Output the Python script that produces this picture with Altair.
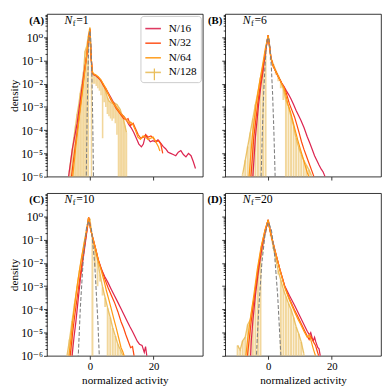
import altair as alt
import pandas as pd

SERIES = ["N/16", "N/32", "N/64", "N/128"]
COLORS = ["#dc2550", "#ff4a10", "#ff9a14", "#e9bd5a"]
PANELS = ["A", "B", "C", "D"]
NF = ["1", "6", "10", "20"]
X_TICKS = [0, 20]
X_DOMAIN = [-13.5, 35.5]
Y_DOMAIN = [1e-6, 10]
Y_TICKS = [m * 10.0 ** k for k in range(-6, 1) for m in range(1, 10)]

# ---- values are log10(density) ----
# Panel A  (N_f = 1)
A16_x = [-6.7, -5.5, -4.0, -2.8, -1.9, -1.0, -0.4, 0.0, 0.4, 0.8, 1.2, 1.8, 2.6, 3.4, 4.2, 5.0, 5.8, 6.6, 7.4, 8.2,
         9.0, 9.8, 10.6, 11.4, 12.2, 13.0, 13.8, 14.6, 15.4, 16.2, 16.8, 17.5, 18.2, 19.0, 19.8, 20.6, 21.4, 22.2, 23.0, 23.8,
         24.6, 25.4, 26.2, 27.0, 27.8, 28.6, 29.4, 30.2, 31.0, 31.8, 32.5, 33.2]
A16_y = [-6.0, -4.8, -3.7, -2.5, -1.6, -0.8, -0.1, 0.3, -0.9, -1.55, -1.62, -1.65, -1.75, -1.85, -2.05, -2.2, -2.4, -2.6, -2.8, -3.0,
         -3.15, -3.3, -3.4, -3.55, -3.75, -3.9, -4.1, -4.35, -4.6, -4.72, -4.6, -4.2, -4.35, -4.5, -4.45, -4.5, -4.42, -4.55, -4.7, -4.8,
         -4.95, -5.0, -5.05, -5.1, -4.95, -4.88, -5.05, -5.15, -5.0, -5.1, -5.35, -5.65]
A32_x = [-5.8, -4.8, -3.5, -2.5, -1.7, -1.0, -0.4, 0.0, 0.4, 0.8, 1.2, 1.8, 2.6, 3.4, 4.2, 5.0, 5.8, 6.6, 7.4, 8.2,
         9.0, 9.8, 10.6, 11.4, 12.0, 12.8, 13.6, 14.4, 15.2, 16.0, 16.8, 17.6, 18.4, 19.2, 20.0, 20.8, 21.6, 22.3, 22.9]
A32_y = [-6.0, -4.9, -3.5, -2.4, -1.5, -0.8, -0.05, 0.36, -0.9, -1.55, -1.6, -1.63, -1.72, -1.85, -2.05, -2.25, -2.45, -2.7, -2.85, -3.05,
         -3.2, -3.35, -3.5, -3.55, -3.5, -3.8, -3.7, -3.95, -4.2, -4.35, -4.3, -4.2, -4.3, -4.25, -4.35, -4.5, -4.45, -4.6, -5.0]
A64_x = [-5.4, -4.5, -3.3, -2.3, -1.6, -1.0, -0.4, 0.0, 0.4, 0.8, 1.2, 1.8, 2.6, 3.4, 4.2, 5.0, 5.8, 6.6, 7.4, 8.2,
         9.0, 9.8, 10.6, 11.4, 12.2, 12.8, 13.5, 14.3, 15.1, 15.9, 16.7, 17.5, 18.3, 19.1, 19.9, 20.7, 21.5, 22.0]
A64_y = [-6.0, -4.8, -3.4, -2.3, -1.45, -0.75, -0.05, 0.37, -0.9, -1.5, -1.58, -1.62, -1.7, -1.82, -2.0, -2.2, -2.45, -2.65, -2.85, -3.0,
         -3.15, -3.3, -3.4, -3.55, -3.7, -3.65, -3.75, -4.0, -4.3, -4.4, -4.25, -4.3, -4.4, -4.35, -4.3, -4.5, -4.7, -4.9]
A128_x = [-6.5, -6.0, -5.5, -5.0, -4.5, -4.0, -3.5, -3.0, -2.5, -2.0, -1.5, -1.0, -0.5, 0.0, 0.5, 1.0, 1.5, 2.0, 2.5,
          3.0, 3.5, 4.0, 4.5, 5.0, 5.5, 6.0, 6.5, 7.0, 7.5, 8.0, 8.5, 9.0, 9.5, 10.0, 10.5, 11.0, 11.5]
A128_y = [-5.8, -5.3, -4.8, -4.3, -3.8, -3.3, -2.9, -2.4, -2.0, -1.5, -0.6, -0.4, 0.05, 0.42, -1.25, -1.6, -1.62, -1.68, -1.72,
          -1.8, -1.9, -2.0, -2.15, -2.35, -2.6, -2.75, -2.8, -2.85, -2.8, -2.85, -2.9, -3.0, -3.1, -3.3, -3.5, -3.8, -4.1]
A128_lo = [-7, -7, -7, -7, -7, -7, -7, -7, -7, -7, -7, -7, -7, -0.25, -7, -2.0, -2.0, -2.1, -2.2,
           -2.3, -2.5, -4.35, -2.8, -3.0, -3.3, -3.4, -3.5, -3.6, -3.5, -3.7, -4.2, -7, -7, -7, -7, -7, -7]
GA_x = [-1.15, -1.1, -0.9, -0.7, -0.5, -0.25, 0.0, 0.25, 0.5, 0.7, 0.9, 1.1, 1.15]
GA_y = [-6.2, -5.67, -3.7, -2.13, -0.95, -0.03, 0.28, -0.03, -0.95, -2.13, -3.7, -5.67, -6.2]

# Panel B  (N_f = 6)
B16_x = [-4.8, -4.0, -3.0, -2.2, -1.6, -0.8, 0.0, 0.5, 0.9, 1.5, 2.1, 3.0, 4.2, 5.0, 5.7, 6.5, 7.2, 8.0, 8.8, 9.5,
         10.3, 11.3, 12.3, 13.1, 13.9, 14.6, 15.4, 16.0, 16.7, 17.3, 17.9]
B16_y = [-6.0, -4.3, -2.9, -2.0, -1.46, -0.6, 0.08, -0.45, -0.9, -1.2, -1.39, -1.65, -1.96, -2.12, -2.3, -2.48, -2.66, -2.9, -3.15, -3.35,
         -3.57, -3.9, -4.28, -4.55, -4.84, -5.1, -5.33, -5.5, -5.68, -5.8, -6.0]
B32_x = [-5.4, -4.5, -3.3, -2.4, -1.6, -0.8, 0.0, 0.5, 0.9, 1.5, 2.1, 3.0, 4.2, 5.0, 5.7, 6.7, 7.5, 8.3, 9.0, 9.8,
         10.5, 11.3, 12.0, 12.8, 13.6, 14.4]
B32_y = [-6.0, -4.3, -2.9, -2.0, -1.3, -0.55, 0.08, -0.45, -0.9, -1.2, -1.39, -1.65, -1.96, -2.15, -2.4, -2.87, -3.15, -3.43, -3.75, -4.14,
         -4.5, -4.84, -5.1, -5.4, -5.7, -6.0]
B64_x = [-6.0, -5.0, -3.8, -2.7, -1.8, -0.9, 0.0, 0.5, 0.9, 1.5, 2.1, 3.0, 4.2, 5.0, 5.6, 6.2, 7.0, 7.7, 8.5, 9.3,
         10.0, 10.8, 11.5, 12.3, 12.8]
B64_y = [-6.0, -4.3, -2.9, -1.95, -1.25, -0.5, 0.08, -0.45, -0.9, -1.2, -1.39, -1.65, -1.98, -2.2, -2.5, -2.87, -3.2, -3.57, -4.0, -4.42,
         -4.75, -5.12, -5.45, -5.82, -6.0]
B128_x = [-8.0, -7.2, -6.4, -5.6, -4.8, -4.0, -3.2, -2.4, -1.6, -0.8, 0.0, 0.8, 1.6, 2.4, 3.2, 4.0, 4.8, 5.6, 6.4,
          7.2, 8.0, 8.8, 9.6, 10.4, 11.2, 12.0, 12.8, 13.6]
B128_y = [-5.9, -5.3, -4.7, -4.1, -3.5, -2.9, -2.35, -1.75, -1.2, -0.6, 0.08, -0.85, -1.15, -1.42, -1.65, -1.9, -2.25, -2.7, -3.0,
          -3.4, -3.85, -4.35, -4.75, -5.05, -5.3, -5.5, -5.7, -5.95]
B128_lo = [-7, -7, -7, -7, -7, -7, -7, -7, -7, -7, -0.05, -1.0, -1.3, -1.6, -1.9, -2.2, -2.7, -7, -7,
           -7, -7, -7, -7, -7, -7, -7, -7, -7]
GB_x = [-2.25, -2.2, -1.8, -1.4, -1.0, -0.6, -0.3, 0.0, 0.3, 0.6, 1.0, 1.4, 1.8, 2.2, 2.25]
GB_y = [-6.25, -5.98, -4.01, -2.43, -1.25, -0.46, -0.13, -0.02, -0.13, -0.46, -1.25, -2.43, -4.01, -5.98, -6.25]

# Panel C  (N_f = 10)
C16_x = [-5.6, -5.0, -4.4, -3.7, -3.0, -2.3, -1.6, -1.0, -0.4, 0.3, 1.1, 1.9, 2.65, 3.7, 4.7, 5.7, 6.7, 7.7, 8.8, 9.8,
         10.8, 11.8, 12.6, 13.4, 14.1, 14.9, 15.6, 16.4, 17.1, 17.5, 17.9]
C16_y = [-6.0, -5.2, -4.53, -3.6, -2.7, -2.0, -1.3, -0.7, -0.04, -0.6, -1.02, -1.45, -1.87, -2.3, -2.6, -2.85, -3.13, -3.4, -3.7, -3.97,
         -4.25, -4.53, -4.75, -4.95, -5.15, -5.37, -5.5, -5.55, -5.85, -5.6, -6.0]
C32_x = [-6.2, -5.5, -4.8, -4.0, -3.2, -2.4, -1.7, -1.0, -0.4, 0.3, 1.1, 1.9, 2.65, 3.7, 4.7, 5.7, 6.7, 7.7, 8.8, 9.8,
         10.6, 11.3, 12.0, 12.8, 13.4, 13.9]
C32_y = [-6.0, -5.1, -4.3, -3.5, -2.7, -1.95, -1.3, -0.65, -0.04, -0.6, -1.02, -1.45, -1.87, -2.3, -2.7, -3.06, -3.38, -3.69, -4.1, -4.53,
         -4.8, -5.09, -5.35, -5.65, -5.6, -6.0]
C64_x = [-6.6, -6.0, -5.4, -4.6, -3.7, -2.8, -1.9, -1.1, -0.4, 0.3, 1.1, 1.9, 2.65, 3.7, 4.5, 5.2, 6.0, 6.7, 7.5, 8.3,
         9.0, 9.8, 10.3, 10.8]
C64_y = [-6.0, -5.3, -4.53, -3.6, -2.7, -1.9, -1.2, -0.6, -0.04, -0.6, -1.02, -1.45, -1.9, -2.4, -2.8, -3.2, -3.6, -3.97, -4.4, -4.81,
         -5.2, -5.65, -5.8, -6.0]
C128_x = [-7.2, -6.4, -5.6, -4.8, -4.0, -3.2, -2.4, -1.6, -0.8, 0.0, 0.8, 1.6, 2.4, 3.2, 4.0, 4.8, 5.6, 6.4, 7.2, 8.0,
          8.8, 9.6, 10.4]
C128_y = [-6.0, -5.3, -4.5, -3.75, -3.0, -2.3, -1.65, -1.05, -0.45, -0.1, -0.95, -1.45, -1.9, -2.5, -3.05, -3.5, -3.95, -4.35, -4.8, -5.15,
          -5.5, -5.75, -6.0]
C128_lo = [-7, -7, -7, -3.9, -3.1, -2.4, -1.75, -1.15, -0.5, -0.15, -7, -2.2, -3.0, -2.8, -3.4, -3.9, -7, -7, -7, -7,
           -7, -7, -7]
GC_x = [-3.75, -3.7, -3.0, -2.0, -1.0, -0.35, 0.5, 1.5, 2.5, 3.0, 3.05]
GC_y = [-6.4, -6.14, -3.92, -1.64, -0.42, -0.2, -0.58, -2.01, -4.5, -6.14, -6.4]

# Panel D  (N_f = 20)
D16_x = [-5.5, -5.3, -4.8, -4.0, -3.0, -1.9, -0.9, 0.0, 0.6, 2.1, 3.7, 5.2, 6.7, 8.3, 9.3, 10.3, 11.3, 12.3, 13.0, 13.4,
         13.8, 14.2, 14.6, 15.0, 15.6, 16.0, 16.4]
D16_y = [-6.0, -5.36, -4.5, -3.4, -2.28, -1.3, -0.65, -0.15, -0.6, -1.44, -2.28, -2.98, -3.4, -3.82, -4.1, -4.38, -4.66, -4.94, -5.1, -5.0,
         -5.2, -5.36, -5.2, -5.4, -5.64, -5.7, -6.0]
D32_x = [-6.5, -6.0, -5.3, -4.3, -3.2, -2.1, -1.0, 0.0, 0.6, 2.1, 3.7, 5.2, 6.7, 8.3, 9.3, 10.3, 11.3, 12.3, 12.9, 13.4,
         13.9, 14.4, 14.9, 15.4, 15.9]
D32_y = [-6.0, -5.36, -4.5, -3.4, -2.28, -1.3, -0.6, -0.15, -0.6, -1.44, -2.28, -3.0, -3.54, -4.03, -4.3, -4.59, -4.87, -5.15, -5.3, -5.15,
         -5.3, -5.43, -5.55, -5.78, -6.0]
D64_x = [-7.0, -6.5, -5.7, -4.5, -3.4, -2.2, -1.0, 0.0, 0.6, 2.1, 3.7, 5.2, 6.7, 8.3, 9.3, 10.3, 11.3, 12.3, 13.0, 13.6,
         14.2, 14.9]
D64_y = [-6.0, -5.36, -4.5, -3.4, -2.28, -1.3, -0.6, -0.15, -0.6, -1.44, -2.3, -3.05, -3.6, -4.1, -4.4, -4.66, -4.95, -5.2, -5.1, -5.4,
         -5.7, -6.0]
D128_x = [-9.6, -8.8, -8.0, -7.2, -6.4, -5.6, -4.8, -4.0, -3.2, -2.4, -1.6, -0.8, 0.0, 0.8, 1.6, 2.4, 3.2, 4.0, 4.8, 5.6,
          6.4, 7.2, 8.0, 8.8, 9.6, 10.4, 11.2]
D128_y = [-5.55, -5.75, -5.35, -5.2, -4.65, -4.45, -3.8, -3.25, -2.6, -1.95, -1.3, -0.6, -0.15, -0.75, -1.3, -1.85, -2.35, -2.75, -3.15, -3.45,
          -3.75, -4.0, -4.35, -4.75, -5.05, -5.4, -5.9]
D128_lo = [-7, -7, -7, -7, -7, -7, -7, -7, -7, -7, -1.4, -0.7, -0.2, -0.85, -1.4, -1.95, -2.5, -7, -7, -7,
           -7, -7, -7, -7, -7, -7, -7]
GD_x = [-3.75, -3.0, -2.0, -1.0, 0.0, 0.15, 1.0, 2.0, 3.0, 4.0, 4.05]
GD_y = [-6.2, -4.1, -2.05, -0.78, -0.28, -0.27, -0.55, -1.59, -3.40, -5.99, -6.2]

LINES = {
    "A": [(A16_x, A16_y), (A32_x, A32_y), (A64_x, A64_y), (A128_x, A128_y)],
    "B": [(B16_x, B16_y), (B32_x, B32_y), (B64_x, B64_y), (B128_x, B128_y)],
    "C": [(C16_x, C16_y), (C32_x, C32_y), (C64_x, C64_y), (C128_x, C128_y)],
    "D": [(D16_x, D16_y), (D32_x, D32_y), (D64_x, D64_y), (D128_x, D128_y)],
}
ERRLO = {"A": A128_lo, "B": B128_lo, "C": C128_lo, "D": D128_lo}
GAUSS = {"A": (GA_x, GA_y), "B": (GB_x, GB_y), "C": (GC_x, GC_y), "D": (GD_x, GD_y)}

FONT = "'Liberation Serif', 'Times New Roman', Times, 'DejaVu Serif', serif"
IS_DECADE = "abs(log(datum.value)/LN10 - round(log(datum.value)/LN10)) < 0.01"
LABEL_EXPR = (IS_DECADE + " ? '10' + (datum.value < 0.5 ? '\u207b' : '') + "
              "['\u2070','\u00b9','\u00b2','\u00b3','\u2074','\u2075','\u2076'][abs(round(log(datum.value)/LN10))] : ''")


def pw(v):
    return [10.0 ** a for a in v]


def make_panel(i):
    key = PANELS[i]
    left = i % 2 == 0
    bottom = i >= 2
    xsc = alt.Scale(domain=X_DOMAIN, nice=False, zero=False)
    ysc = alt.Scale(type="log", domain=Y_DOMAIN, nice=False)
    xax = alt.Axis(values=X_TICKS, labels=bottom, title="normalized activity" if bottom else None,
                   tickSize=3.5, labelPadding=2, titlePadding=3, grid=False, domain=False,
                   labelFont=FONT, titleFont=FONT, labelFontSize=11, titleFontSize=11.5,
                   titleFontWeight="normal", labelColor="black", titleColor="black",
                   tickColor="black", tickWidth=0.8)
    yax = alt.Axis(values=Y_TICKS, labels=left, labelExpr=LABEL_EXPR, title="density" if left else None,
                   tickSize={"condition": {"test": IS_DECADE, "value": 3.5}, "value": 2},
                   labelPadding=1, titlePadding=1, grid=False, domain=False,
                   labelFont=FONT, titleFont=FONT, labelFontSize=12, titleFontSize=11.5,
                   titleFontWeight="normal", labelColor="black", titleColor="black",
                   tickColor="black", tickWidth=0.8)
    X = alt.X("x:Q", scale=xsc, axis=xax)
    cscale = alt.Scale(domain=SERIES, range=COLORS)
    if i == 0:
        leg = alt.Legend(orient="top-right", title=None, symbolType="stroke", symbolSize=256,
                         symbolStrokeWidth=1.6, labelFont=FONT, labelFontSize=11.5, padding=4,
                         offset=2, rowPadding=0, labelOffset=7, strokeColor="#cccccc",
                         cornerRadius=3, labelColor="black")
    else:
        leg = None

    bx, by = LINES[key][3]
    err = pd.DataFrame({"x": bx, "hi": pw(by), "lo": pw(ERRLO[key])})
    rules = alt.Chart(err).mark_rule(color=COLORS[3], opacity=0.6,
                                     strokeWidth=1.6 if key == "A" else 2.0, clip=True).encode(
        x=X, y=alt.Y("hi:Q", scale=ysc, axis=yax), y2="lo:Q")

    layers = [rules]
    for j in [3, 0, 1, 2]:
        xs, ys = LINES[key][j]
        df = pd.DataFrame({"x": xs, "y": pw(ys), "s": SERIES[j], "o": list(range(len(xs)))})
        layers.append(alt.Chart(df).mark_line(strokeWidth=1.25 if j < 3 else 1.4, clip=True,
                                              opacity=1 if j < 3 else 0.9).encode(
            x=X, y=alt.Y("y:Q", scale=ysc, axis=yax),
            color=alt.Color("s:N", scale=cscale, legend=leg), order="o:Q"))

    gx, gy = GAUSS[key]
    gdf = pd.DataFrame({"x": gx, "y": pw(gy), "o": list(range(len(gx)))})
    layers.append(alt.Chart(gdf).mark_line(color="#808080", strokeDash=[4, 2], strokeWidth=1.1, clip=True).encode(
        x=X, y=alt.Y("y:Q", scale=ysc, axis=yax), order="o:Q"))

    def txt(t, x, y, **kw):
        return alt.Chart(pd.DataFrame({"t": [t]})).mark_text(font=FONT, baseline="alphabetic",
                                                            color="black", **kw).encode(
            x=alt.value(x), y=alt.value(y), text="t:N")

    layers.append(txt("(" + key + ")", -3, 10, align="right", fontSize=11, fontWeight="bold"))
    layers.append(txt("N", 18, 10, align="left", fontSize=12, fontStyle="italic"))
    layers.append(txt("f", 26.5, 12.5, align="left", fontSize=8.5))
    layers.append(txt("=" + NF[i], 30, 10, align="left", fontSize=12))

    if i == 0:
        # error-bar cap of the N/128 legend entry (matplotlib errorbar legend glyph)
        layers.append(alt.Chart(pd.DataFrame({"t": [0]})).mark_rule(color=COLORS[3], strokeWidth=1.3).encode(
            x=alt.value(110.3), y=alt.value(56), y2=alt.value(68)))

    return alt.layer(*layers).properties(width=160, height=167)


chart = alt.concat(*[make_panel(i) for i in range(4)], columns=2,
                   spacing={"row": 17, "column": 23}, bounds="flush").resolve_scale(
    color="independent").resolve_legend(color="independent").properties(padding=0).configure_view(
    stroke="black", strokeWidth=0.8)

chart.save("out.html", embed_options={"renderer": "svg", "actions": False})
